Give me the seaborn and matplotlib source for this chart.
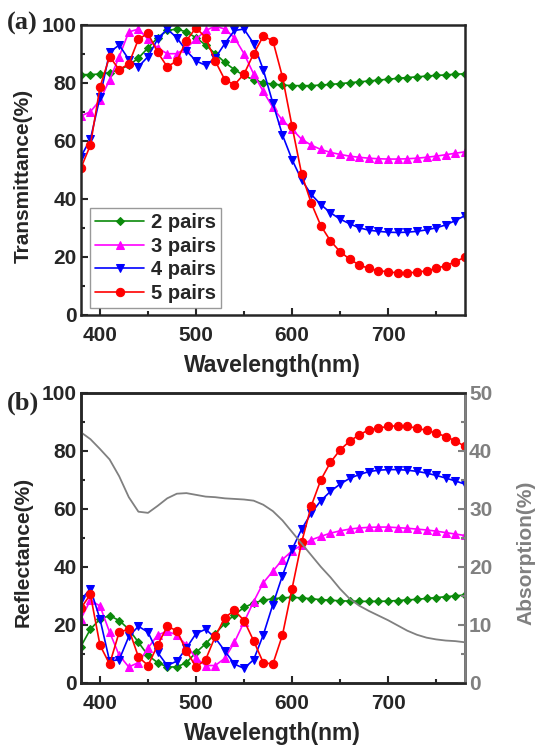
import numpy as np
import pandas as pd
import seaborn as sns
import matplotlib
matplotlib.use("Agg")
import matplotlib.pyplot as plt
from matplotlib.ticker import MultipleLocator

sns.set_style("ticks")
plt.rcParams['font.family'] = ['Liberation Sans', 'DejaVu Sans']
plt.rcParams['font.weight'] = 'bold'

wavelength = list(range(380, 790, 10))

# (a) transmittance
T_2 = [82.8, 82.8, 83.0, 83.5, 84.5, 86.0, 88.5, 92.0, 95.5, 98.0, 98.5, 97.5, 95.5, 93.0,
       90.0, 87.0, 84.5, 82.5, 81.0, 80.0, 79.5, 79.2, 79.0, 79.0, 79.0, 79.2, 79.4, 79.7,
       80.0, 80.3, 80.6, 80.9, 81.2, 81.5, 81.8, 82.0, 82.3, 82.5, 82.7, 82.9, 83.1]
T_3 = [68.5, 70.0, 74.0, 81.0, 89.0, 97.5, 98.5, 95.0, 92.0, 90.0, 90.0, 92.0, 95.0, 98.0,
       99.5, 98.5, 95.5, 90.0, 83.0, 77.0, 71.5, 67.0, 64.0, 60.5, 58.5, 57.0, 56.0, 55.3,
       54.7, 54.3, 54.0, 53.8, 53.7, 53.7, 53.8, 54.0, 54.3, 54.7, 55.2, 55.7, 56.2]
T_4 = [54.5, 60.5, 75.0, 90.5, 93.0, 88.0, 85.5, 89.0, 95.0, 98.5, 95.5, 91.0, 87.5, 86.0,
       88.5, 93.5, 98.0, 98.5, 93.5, 84.5, 73.0, 62.0, 53.5, 46.5, 41.5, 38.0, 35.2, 33.0,
       31.4, 30.0, 29.2, 28.8, 28.5, 28.4, 28.5, 28.8, 29.3, 30.0, 31.0, 32.5, 34.2]
T_5 = [50.5, 58.5, 78.5, 89.0, 84.5, 86.5, 95.0, 97.0, 90.5, 85.5, 87.5, 94.5, 99.0, 95.5,
       87.5, 81.0, 79.3, 83.0, 90.0, 96.0, 94.5, 82.0, 65.0, 48.5, 38.5, 30.7, 25.5, 21.8,
       19.2, 17.2, 16.0, 15.3, 14.8, 14.5, 14.5, 14.7, 15.2, 16.0, 17.0, 18.3, 19.9]

# (b) reflectance
R_2 = [12.5, 18.5, 22.0, 23.2, 21.5, 18.5, 14.0, 9.5, 7.0, 5.5, 5.5, 7.0, 10.5, 13.5,
       17.0, 20.5, 23.5, 26.0, 27.5, 28.5, 29.0, 29.3, 29.5, 29.3, 29.0, 28.7, 28.5, 28.3,
       28.2, 28.1, 28.1, 28.1, 28.2, 28.4, 28.6, 28.8, 29.1, 29.4, 29.7, 30.0, 30.3]
R_3 = [22.0, 28.5, 26.5, 17.5, 9.5, 5.5, 7.0, 12.0, 16.5, 17.8, 16.5, 13.0, 8.5, 6.0,
       6.0, 8.5, 14.0, 21.0, 28.0, 34.5, 38.5, 42.5, 45.5, 47.5, 49.3, 50.5, 51.6, 52.4,
       53.0, 53.4, 53.6, 53.7, 53.7, 53.5, 53.3, 53.0, 52.7, 52.3, 51.8, 51.3, 50.8]
R_4 = [28.5, 32.5, 22.0, 7.5, 8.0, 16.0, 19.5, 17.5, 10.5, 6.0, 7.5, 12.0, 17.0, 18.5,
       15.5, 11.0, 6.5, 5.0, 8.0, 16.5, 27.0, 37.0, 46.0, 53.0, 58.5, 62.8, 66.0, 68.5,
       70.5, 71.8, 72.8, 73.3, 73.5, 73.5, 73.3, 72.9, 72.3, 71.5, 70.6, 69.6, 68.5]
R_5 = [25.7, 30.5, 13.0, 6.5, 17.5, 18.5, 9.0, 6.0, 13.0, 19.5, 18.0, 11.0, 5.5, 8.0,
       16.0, 22.5, 25.0, 21.5, 14.5, 7.0, 6.5, 16.5, 32.5, 48.5, 61.0, 70.0, 76.0, 80.3,
       83.3, 85.5, 87.2, 87.8, 88.4, 88.6, 88.4, 87.8, 87.0, 86.1, 84.9, 83.4, 81.5]

# (b) absorption, right axis
A = [43.2, 42.0, 40.3, 38.5, 35.6, 32.0, 29.5, 29.3, 30.5, 31.8, 32.6, 32.7, 32.4, 32.1,
     32.0, 31.8, 31.7, 31.6, 31.4, 30.7, 29.6, 28.0, 26.0, 24.0, 22.0, 20.0, 18.2, 16.2,
     14.5, 13.3, 12.4, 11.6, 10.8, 9.9, 9.0, 8.3, 7.8, 7.5, 7.3, 7.2, 7.0]

labels = ['2 pairs', '3 pairs', '4 pairs', '5 pairs']
colors = ['#0b8a0b', '#ff00ff', '#0000ff', '#ff0000']
markers = ['D', '^', 'v', 'o']
msizes = [4.5, 6, 6, 6]

fig = plt.figure(figsize=(5.35, 7.48), dpi=100)
ax1 = fig.add_axes([0.151, 0.579, 0.718, 0.388])
ax2 = fig.add_axes([0.151, 0.087, 0.718, 0.388])


def style_axis(ax):
    ax.set_xlim(380, 780)
    ax.set_ylim(0, 100)
    ax.xaxis.set_major_locator(MultipleLocator(100))
    ax.xaxis.set_minor_locator(MultipleLocator(50))
    ax.yaxis.set_major_locator(MultipleLocator(20))
    ax.yaxis.set_minor_locator(MultipleLocator(10))
    ax.tick_params(which='both', direction='in', top=False, right=False, width=1.5)
    ax.tick_params(which='major', length=5, labelsize=15)
    ax.tick_params(which='minor', length=3)
    ax.tick_params(axis='x', pad=8)
    ax.tick_params(axis='y', pad=3)
    for s in ax.spines.values():
        s.set_linewidth(1.8)
        s.set_visible(True)
    for lab in ax.get_xticklabels() + ax.get_yticklabels():
        lab.set_fontweight('bold')
    ax.set_xlabel('Wavelength(nm)', fontsize=16.5, fontweight='bold')
    ax.xaxis.set_label_coords(0.5, -0.135)


for vals, lab, c, m, ms in zip([T_2, T_3, T_4, T_5], labels, colors, markers, msizes):
    sns.lineplot(x=wavelength, y=vals, ax=ax1, color=c, marker=m, markersize=ms,
                 markeredgecolor=c, linewidth=1.2, label=lab)
style_axis(ax1)
ax1.set_ylabel('Transmittance(%)', fontsize=15, fontweight='bold')
ax1.yaxis.set_label_coords(-0.125, 0.48)
leg = ax1.legend(loc='lower left', bbox_to_anchor=(0.025, 0.025), frameon=True, fancybox=False,
                 edgecolor='#808080', fontsize=14.5, handlelength=2.4, handletextpad=0.35,
                 labelspacing=0.22, borderpad=0.25, borderaxespad=0.0)
leg.get_frame().set_linewidth(1.0)
for t in leg.get_texts():
    t.set_fontweight('bold')

for vals, lab, c, m, ms in zip([R_2, R_3, R_4, R_5], labels, colors, markers, msizes):
    sns.lineplot(x=wavelength, y=vals, ax=ax2, color=c, marker=m, markersize=ms,
                 markeredgecolor=c, linewidth=1.2, legend=False)
style_axis(ax2)
ax2.set_ylabel('Reflectance(%)', fontsize=15, fontweight='bold')
ax2.yaxis.set_label_coords(-0.125, 0.45)

ax3 = ax2.twinx()
sns.lineplot(x=wavelength, y=A, ax=ax3, color='#808080', linewidth=1.3, legend=False)
ax3.set_xlim(380, 780)
ax3.set_ylim(0, 50)
ax3.yaxis.set_major_locator(MultipleLocator(10))
ax3.yaxis.set_minor_locator(MultipleLocator(5))
ax3.tick_params(axis='y', which='both', direction='in', colors='#808080', width=1.5,
                labelsize=15, pad=3)
ax3.tick_params(axis='y', which='major', length=5)
ax3.tick_params(axis='y', which='minor', length=3)
for s in ax3.spines.values():
    s.set_linewidth(1.8)
ax3.spines['right'].set_color('#808080')
for lab in ax3.get_yticklabels():
    lab.set_fontweight('bold')
ax3.set_ylabel('Absorption(%)', fontsize=15, fontweight='bold', color='#808080')
ax3.yaxis.set_label_coords(1.135, 0.45)

fig.text(0.013, 0.968, '(a)', fontsize=19, fontweight='bold', family='Liberation Serif',
         va='center', ha='left')
fig.text(0.013, 0.461, '(b)', fontsize=19, fontweight='bold', family='Liberation Serif',
         va='center', ha='left')

fig.savefig('out.png', dpi=100)
